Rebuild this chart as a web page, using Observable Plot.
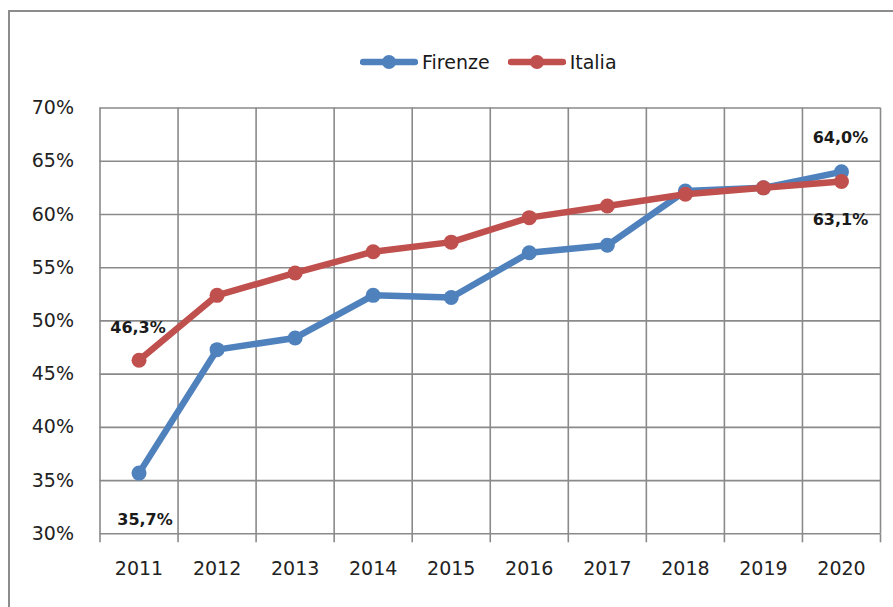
<!DOCTYPE html>
<html>
<head>
<meta charset="utf-8">
<script src="https://cdn.jsdelivr.net/npm/d3@7"></script>
<script src="https://cdn.jsdelivr.net/npm/@observablehq/plot@0.6"></script>
<style>
  html, body { margin: 0; padding: 0; background: #fff; }
  #wrap { position: relative; width: 893px; height: 607px; overflow: hidden; font-family: "DejaVu Sans", sans-serif; }
  #frame { position: absolute; left: 8px; top: 10px; width: 900px; height: 700px; border-left: 2px solid #8c8c8c; border-top: 2px solid #8c8c8c; box-sizing: border-box; }
  #chart { position: absolute; left: 0; top: 0; }
  #legend { position: absolute; top: 48px; left: 360px; display: flex; align-items: center; font-size: 19px; color: #1a1a1a; }
  .item { display: flex; align-items: center; }
  .item svg { display: block; margin-right: 4px; }
</style>
</head>
<body>
<div id="wrap">
  <div id="frame"></div>
  <div id="chart"></div>
  <div id="legend"></div>
</div>
<script>
const years = [2011, 2012, 2013, 2014, 2015, 2016, 2017, 2018, 2019, 2020];
const firenze = [35.7, 47.3, 48.4, 52.4, 52.2, 56.4, 57.1, 62.2, 62.5, 64.0];
const italia = [46.3, 52.4, 54.5, 56.5, 57.4, 59.7, 60.8, 61.9, 62.5, 63.1];
const seriesNames = ["Firenze", "Italia"];
const seriesColors = ["#4F81BD", "#C0504D"];
const yTicks = [30, 35, 40, 45, 50, 55, 60, 65, 70];
// labelled points: [series, year index, dx, dy]
const labelled = [
  ["Firenze", 0, 6, 47],
  ["Italia", 0, -1, -32],
  ["Firenze", 9, -1, -34],
  ["Italia", 9, -1, 38]
];

const valuesBy = {Firenze: firenze, Italia: italia};
const data = seriesNames.flatMap(s => years.map((y, i) => ({series: s, year: y, value: valuesBy[s][i]})));
const boundaries = d3.range(years[0] - 0.5, years[years.length - 1] + 1, 1);
const fmt = v => d3.format(".1f")(v).replace(".", ",") + "%";
const labelData = labelled.map(([s, i, dx, dy]) => ({series: s, year: years[i], value: valuesBy[s][i], dx, dy}));
const color = s => seriesColors[seriesNames.indexOf(s)];

const gridColor = "#8a8a8a";

const marks = [
  Plot.ruleY(yTicks, {stroke: gridColor, strokeWidth: 1.6}),
  Plot.ruleX(boundaries, {stroke: gridColor, strokeWidth: 1.6}),
  Plot.axisX({ticks: boundaries, tickSize: 9, tickFormat: () => "", stroke: gridColor, strokeWidth: 1.6, strokeOpacity: 1, label: null}),
  Plot.axisY({ticks: yTicks, tickSize: 0, tickPadding: 26, tickFormat: d => d + "%", fontSize: 19, fill: "#222", label: null}),
  Plot.axisX({ticks: years, tickSize: 0, tickPadding: 28, tickFormat: d => String(d), fontSize: 19, fill: "#222", label: null})
];
for (const s of seriesNames) {
  const d = data.filter(r => r.series === s);
  marks.push(Plot.line(d, {x: "year", y: "value", stroke: color(s), strokeWidth: 6.5, strokeLinejoin: "round", strokeLinecap: "round"}));
  marks.push(Plot.dot(d, {x: "year", y: "value", r: 7.5, fill: color(s), stroke: "none"}));
}
for (const l of labelData) {
  marks.push(Plot.text([l], {x: "year", y: "value", text: d => fmt(d.value), dx: l.dx, dy: l.dy, fontSize: 16, fontWeight: "bold", fill: "#1a1a1a"}));
}

const chart = Plot.plot({
  width: 893,
  height: 607,
  marginLeft: 99.5,
  marginRight: 13,
  marginTop: 107.5,
  marginBottom: 73.7,
  style: {background: "transparent", fontFamily: "DejaVu Sans, sans-serif", overflow: "visible"},
  x: {type: "linear", domain: [years[0] - 0.5, years[years.length - 1] + 0.5]},
  y: {type: "linear", domain: [yTicks[0], yTicks[yTicks.length - 1]]},
  marks
});
document.getElementById("chart").appendChild(chart);

const legend = document.getElementById("legend");
seriesNames.forEach((s, i) => {
  const item = document.createElement("div");
  item.className = "item";
  if (i > 0) item.style.marginLeft = "18px";
  const ns = "http://www.w3.org/2000/svg";
  const sw = document.createElementNS(ns, "svg");
  sw.setAttribute("width", 58); sw.setAttribute("height", 28);
  const ln = document.createElementNS(ns, "line");
  ln.setAttribute("x1", 3); ln.setAttribute("x2", 55); ln.setAttribute("y1", 14); ln.setAttribute("y2", 14);
  ln.setAttribute("stroke", seriesColors[i]); ln.setAttribute("stroke-width", 6.5); ln.setAttribute("stroke-linecap", "round");
  const c = document.createElementNS(ns, "circle");
  c.setAttribute("cx", 29); c.setAttribute("cy", 14); c.setAttribute("r", 7); c.setAttribute("fill", seriesColors[i]);
  sw.appendChild(ln); sw.appendChild(c);
  const t = document.createElement("span");
  t.textContent = s;
  item.appendChild(sw); item.appendChild(t);
  legend.appendChild(item);
});
</script>
</body>
</html>
